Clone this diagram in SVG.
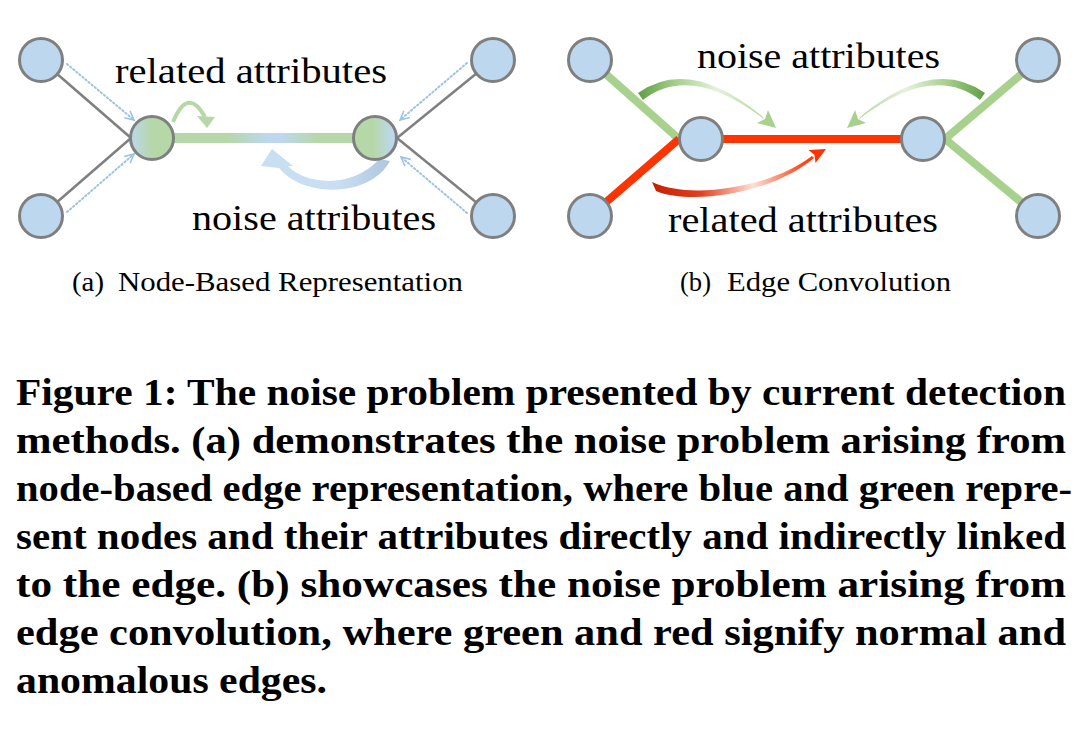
<svg xmlns="http://www.w3.org/2000/svg" width="1080" height="733" viewBox="0 0 1080 733">
<style>
.node{fill:#bdd7ee;stroke:#7f7f7f;stroke-width:3}
.gray{stroke:#7f7f7f;stroke-width:2.5;fill:none}
.dot{stroke:#9dc3e6;stroke-width:2;fill:none;stroke-dasharray:1.5 2.5;stroke-linecap:round}
.gE{stroke:#a9d18e;stroke-width:8;fill:none}
.rE{stroke:#ff3300;stroke-width:8;fill:none}
.lbl{font-family:"Liberation Serif","Times New Roman",serif;font-size:35px;fill:#000}
.sub{font-family:"Liberation Serif","Times New Roman",serif;font-size:28px;fill:#000}
.cap{font-family:"Liberation Serif","Times New Roman",serif;font-size:37px;font-weight:bold;fill:#000}
</style>
<defs>
<marker id="chev" markerUnits="userSpaceOnUse" markerWidth="12" markerHeight="12" viewBox="0 0 12 12" refX="11" refY="6" orient="auto">
<path d="M2,1.5 L11,6 L2,10.5" fill="none" stroke="#9dc3e6" stroke-width="1.6"/>
</marker>
<linearGradient id="edgeA" gradientUnits="userSpaceOnUse" x1="174" y1="0" x2="353" y2="0">
<stop offset="0" stop-color="#b6d7a8"/><stop offset="0.3" stop-color="#b6d7a8"/>
<stop offset="0.52" stop-color="#bdd7ee"/><stop offset="0.6" stop-color="#bdd7ee"/>
<stop offset="0.8" stop-color="#b6d7a8"/><stop offset="1" stop-color="#b6d7a8"/>
</linearGradient>
<linearGradient id="nodeL" x1="0" y1="0" x2="1" y2="0">
<stop offset="0" stop-color="#bdd7ee"/><stop offset="0.5" stop-color="#b6d7a8"/><stop offset="1" stop-color="#b6d7a8"/>
</linearGradient>
<linearGradient id="nodeR" x1="0" y1="0" x2="1" y2="0">
<stop offset="0" stop-color="#b6d7a8"/><stop offset="0.45" stop-color="#b6d7a8"/><stop offset="0.9" stop-color="#bdd7ee"/>
</linearGradient>
<linearGradient id="blueArc" gradientUnits="userSpaceOnUse" x1="260" y1="0" x2="392" y2="0">
<stop offset="0" stop-color="#c8def2"/><stop offset="0.6" stop-color="#c8def2"/><stop offset="1" stop-color="#adc6de"/>
</linearGradient>
<linearGradient id="greenArc" gradientUnits="userSpaceOnUse" x1="638" y1="0" x2="770" y2="0">
<stop offset="0" stop-color="#5f9f45"/><stop offset="0.3" stop-color="#a9d18e"/>
<stop offset="0.6" stop-color="#e6f2de"/><stop offset="1" stop-color="#a9d18e"/>
</linearGradient>
<linearGradient id="redArc" gradientUnits="userSpaceOnUse" x1="652" y1="0" x2="815" y2="0">
<stop offset="0" stop-color="#c41f00"/><stop offset="0.3" stop-color="#e2401e"/>
<stop offset="0.62" stop-color="#ffe0d6"/><stop offset="0.88" stop-color="#ff5a30"/><stop offset="1" stop-color="#ff3300"/>
</linearGradient>
</defs>
<rect width="1080" height="733" fill="#fff"/>

<g id="connectors">
<line class="gray" x1="41" y1="60" x2="131" y2="138"/>
<line class="gray" x1="41" y1="216" x2="131" y2="138"/>
<line class="gray" x1="493" y1="60" x2="397" y2="138"/>
<line class="gray" x1="493" y1="216" x2="397" y2="138"/>
<line class="dot" x1="67" y1="64" x2="134" y2="120" marker-end="url(#chev)"/>
<line class="dot" x1="67" y1="212" x2="134" y2="154" marker-end="url(#chev)"/>
<line class="dot" x1="467" y1="63" x2="400" y2="120" marker-end="url(#chev)"/>
<line class="dot" x1="467" y1="213" x2="401" y2="157" marker-end="url(#chev)"/>
<line x1="172" y1="138" x2="355" y2="138" stroke="url(#edgeA)" stroke-width="10"/>
<path d="M173 122 Q188 86 205 117" fill="none" stroke="#b6d7a8" stroke-width="4"/>
<polygon points="197,116 215,117 207,128" fill="#b6d7a8"/>
<path d="M272 149 L293 166 L288 166 C304 184 352 190 379 159 L390 161 C370 198 303 198 279 168 L261 166 Z" fill="url(#blueArc)"/>
<line class="gE" x1="590" y1="60" x2="679" y2="139"/>
<line class="rE" x1="590" y1="216" x2="679" y2="139"/>
<line class="rE" x1="701" y1="139" x2="923" y2="139" stroke-width="7"/>
<line class="gE" x1="1038" y1="60" x2="945" y2="139"/>
<line class="gE" x1="1038" y1="216" x2="945" y2="139"/>
<g id="arc-green-left">
<path d="M638 93 Q690 56 763 117 L764 119 Q690 63 643 100 Z" fill="url(#greenArc)"/>
<polygon points="776,128 757,123 765,119 768,110" fill="#a9d18e"/>
</g>
<g id="arc-green-right" transform="translate(1623,0) scale(-1,1)">
<path d="M638 93 Q690 56 763 117 L764 119 Q690 63 643 100 Z" fill="url(#greenArc)"/>
<polygon points="776,128 757,123 765,119 768,110" fill="#a9d18e"/>
</g>
<g id="arc-red">
<path d="M652 182 C690 200 770 188 812 156 L814 158 C770 195 690 205 656 191 Z" fill="url(#redArc)"/>
<polygon points="826,149 815.5,163 814.5,155 808.5,150" fill="#ff3300"/>
</g>
</g>

<g id="a-n1"><circle class="node" cx="41" cy="60" r="21.5"/></g>
<g id="a-n2"><circle class="node" cx="41" cy="216" r="21.5"/></g>
<g id="a-c1"><circle class="node" cx="152" cy="138" r="21.5" style="fill:url(#nodeL)"/></g>
<g id="a-c2"><circle class="node" cx="375" cy="138" r="21.5" style="fill:url(#nodeR)"/></g>
<g id="a-n3"><circle class="node" cx="493" cy="60" r="21.5"/></g>
<g id="a-n4"><circle class="node" cx="493" cy="216" r="21.5"/></g>

<g id="b-n1"><circle class="node" cx="590" cy="60" r="21.5"/></g>
<g id="b-n2"><circle class="node" cx="590" cy="216" r="21.5"/></g>
<g id="b-c1"><circle class="node" cx="701" cy="139" r="21.5"/></g>
<g id="b-c2"><circle class="node" cx="923" cy="139" r="21.5"/></g>
<g id="b-n3"><circle class="node" cx="1038" cy="60" r="21.5"/></g>
<g id="b-n4"><circle class="node" cx="1038" cy="216" r="21.5"/></g>

<g id="labels">
<text class="lbl" x="115" y="83" textLength="272" lengthAdjust="spacingAndGlyphs">related attributes</text>
<text class="lbl" x="192" y="230" textLength="244" lengthAdjust="spacingAndGlyphs">noise attributes</text>
<text class="lbl" x="697" y="68" textLength="243" lengthAdjust="spacingAndGlyphs">noise attributes</text>
<text class="lbl" x="668" y="232" textLength="270" lengthAdjust="spacingAndGlyphs">related attributes</text>
<text class="sub" x="72" y="291" textLength="32" lengthAdjust="spacingAndGlyphs">(a)</text>
<text class="sub" x="118" y="291" textLength="345" lengthAdjust="spacingAndGlyphs">Node-Based Representation</text>
<text class="sub" x="680" y="291" textLength="31" lengthAdjust="spacingAndGlyphs">(b)</text>
<text class="sub" x="727" y="291" textLength="224" lengthAdjust="spacingAndGlyphs">Edge Convolution</text>
</g>

<g id="caption">
<text class="cap" x="16" y="405" textLength="1050" lengthAdjust="spacingAndGlyphs">Figure 1: The noise problem presented by current detection</text>
<text class="cap" x="16" y="453" textLength="1050" lengthAdjust="spacingAndGlyphs">methods. (a) demonstrates the noise problem arising from</text>
<text class="cap" x="16" y="501" textLength="1056" lengthAdjust="spacingAndGlyphs">node-based edge representation, where blue and green repre-</text>
<text class="cap" x="16" y="549" textLength="1050" lengthAdjust="spacingAndGlyphs">sent nodes and their attributes directly and indirectly linked</text>
<text class="cap" x="16" y="597" textLength="1050" lengthAdjust="spacingAndGlyphs">to the edge. (b) showcases the noise problem arising from</text>
<text class="cap" x="16" y="645" textLength="1050" lengthAdjust="spacingAndGlyphs">edge convolution, where green and red signify normal and</text>
<text class="cap" x="16" y="693" textLength="311" lengthAdjust="spacingAndGlyphs">anomalous edges.</text>
</g>
</svg>
